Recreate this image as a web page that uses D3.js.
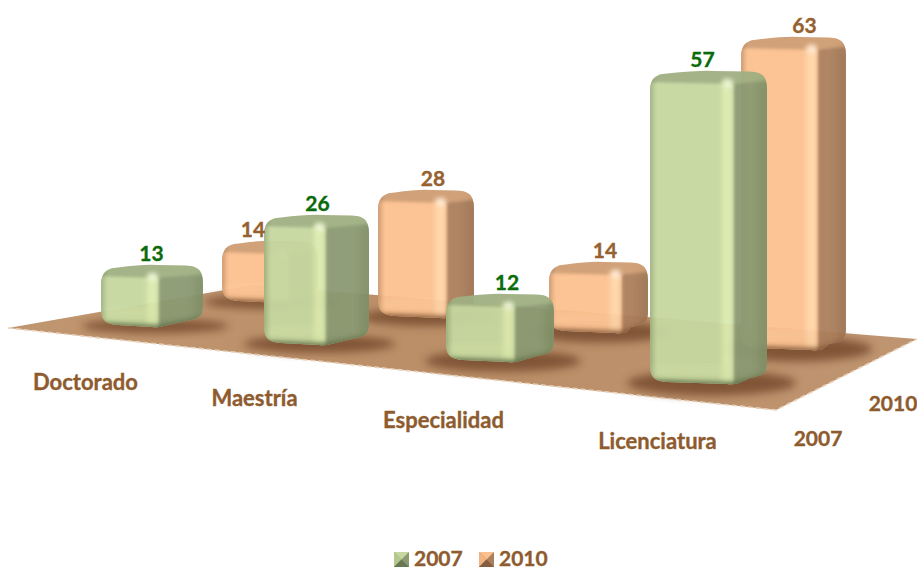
<!DOCTYPE html>
<html><head><meta charset="utf-8">
<script src="https://cdn.jsdelivr.net/npm/d3@7/dist/d3.min.js"></script>
<style>html,body{margin:0;padding:0;background:#fff}svg{display:block}text{font-family:Lato,"Open Sans",sans-serif;font-weight:700;stroke-width:.35;paint-order:stroke}</style>
</head><body><div id="c"></div>
<script>
const categories = ["Doctorado","Maestría","Especialidad","Licenciatura"];
const seriesNames = ["2007","2010"];
const values2007 = [13,26,12,57];
const values2010 = [14,28,14,63];

const W=917,H=569, idx=[0,1,2,3];
const scaleOf=r=>d3.scaleLinear().domain(idx).range(r);
// piecewise perspective layout of each series row
const layout={
 "2007":{v:values2007,left:scaleOf([101,264,446,650]),right:scaleOf([203,369,554,767]),edge:scaleOf([158,325,514,733]),
   base:scaleOf([327,345,362,384]),unit:scaleOf([4.77,5,5.67,5.49]),labelX:scaleOf([151.5,317.5,507,702.5]),
   front:"#c6d8a0",frontD:"#b4c990",side:"#8b9a72",top:"#a0b082",hi:"#dcebae",low:"#5f6f4a",lab:"#0b6b0b"},
 "2010":{v:values2010,left:scaleOf([222,378,549,741]),right:scaleOf([318,474,648,846]),edge:scaleOf([288,446,621,817]),
   base:scaleOf([303,318,333,350]),unit:scaleOf([4.43,4.57,5.07,4.97]),labelX:scaleOf([253,433,605,804.5]),
   front:"#fcc08f",frontD:"#f2b482",side:"#ab7f5c",top:"#cf9d72",hi:"#ffd6a8",low:"#7d5638",lab:"#96602f"}
};
const svg=d3.select("#c").append("svg").attr("width",W).attr("height",H).attr("viewBox",`0 0 ${W} ${H}`);
const defs=svg.append("defs");
[["b1",1.6],["b2",2.4],["b4",4],["b7",6]].forEach(([id,s])=>defs.append("filter").attr("id",id)
  .attr("x","-50%").attr("y","-50%").attr("width","200%").attr("height","200%")
  .append("feGaussianBlur").attr("stdDeviation",s));
const grad=(id,dir,stops)=>{const g=defs.append("linearGradient").attr("id",id);
  g.attr("x1",0).attr("y1",0).attr("x2",dir=="h"?1:0).attr("y2",dir=="h"?0:1);
  stops.forEach(([o,c,a])=>g.append("stop").attr("offset",o).attr("stop-color",c).attr("stop-opacity",a==null?1:a));};
grad("floorG","h",[[0,"#c09670"],[.5,"#ba8e67"],[1,"#bf9571"]]);

// floor
const line=d3.line();
const floorPts=[[8,328],[253,285],[917,339],[776,410]];
svg.append("path").attr("d",line(floorPts)+"Z").attr("fill","url(#floorG)");
svg.append("path").attr("d",line([[8,328],[776,410],[917,339]])).attr("fill","none")
  .attr("stroke","#e8d2bb").attr("stroke-width",1.6).attr("stroke-dasharray","5 3");

const poly=(pts)=>line(pts)+"Z";
function drawBar(parent,s,i){
  const L=layout[s],x0=L.left(i),x1=L.right(i),xe=L.edge(i),y1=L.base(i),h=L.v[i]*L.unit(i),y0=y1-h,
        w=x1-x0,r=17,cid=`clip${s}${i}`,xm=(x0+x1)/2;
  const g=parent.append("g").attr("opacity",.95);
  // rounded silhouette of the box
  defs.append("clipPath").attr("id",cid).append("path").attr("d",
   `M${x0},${y0+r+5}C${x0},${y0+9} ${x0+4},${y0+3} ${x0+r},${y0+2.5}
    Q${xm-8},${y0-1} ${xm+6},${y0} L${x1-r},${y0+.5}C${x1-4},${y0+1} ${x1},${y0+6} ${x1},${y0+r+2}
    L${x1},${y1-r-6}C${x1},${y1-10} ${x1-3},${y1-9} ${x1-r},${y1-6}L${xe+6},${y1-1}Q${xe},${y1+1} ${xe-6},${y1}
    L${x0+r},${y1-2}C${x0+4},${y1-3} ${x0},${y1-7} ${x0},${y1-r-3}Z`);
  const c=g.append("g").attr("clip-path",`url(#${cid})`);
  const tf=10, te=13;           // depth of the top face at the left end and at the near corner
  c.append("rect").attr("x",x0-2).attr("y",y0-2).attr("width",w+4).attr("height",h+6).attr("fill",L.top);
  // side face
  c.append("path").attr("filter","url(#b1)").attr("fill",L.side)
   .attr("d",poly([[xe,y0+te],[x1+6,y0+tf-1],[x1+6,y1-8],[xe,y1+4]]));
  // darkening down the side
  c.append("path").attr("filter","url(#b4)").attr("fill",L.low).attr("opacity",.25)
   .attr("d",poly([[x1-8,y0+tf],[x1+6,y0+tf],[x1+6,y1],[x1-8,y1]]));
  // front face
  c.append("path").attr("filter","url(#b1)").attr("fill",L.front)
   .attr("d",poly([[x0-6,y0+tf+1],[xe,y0+te],[xe,y1+4],[x0-6,y1]]));
  // soft dim left edge
  c.append("rect").attr("x",x0-4).attr("y",y0).attr("width",7).attr("height",h).attr("fill",L.low).attr("opacity",.4).attr("filter","url(#b2)");
  // highlight along the near vertical edge
  c.append("rect").attr("x",xe-11).attr("y",y0+te-4).attr("width",10).attr("height",h-te+2).attr("fill",L.hi).attr("filter","url(#b2)");
  c.append("circle").attr("cx",xe-5).attr("cy",y0+te-1).attr("r",4.5).attr("fill","#fff").attr("opacity",.5).attr("filter","url(#b2)");
  // bottom rim
  c.append("path").attr("filter","url(#b2)").attr("fill",L.low).attr("opacity",.85)
   .attr("d",poly([[x0-4,y1-5],[xe,y1-2],[x1+4,y1-11],[x1+4,y1+6],[x0-4,y1+6]]));
  c.append("rect").attr("x",x0+4).attr("y",y1-17).attr("width",xe-x0-10).attr("height",8).attr("fill",L.hi).attr("opacity",.45).attr("filter","url(#b4)");
}
function shadow(parent,s,i){
  const L=layout[s],cx=(L.left(i)+L.right(i))/2+3,w=L.right(i)-L.left(i);
  parent.append("ellipse").attr("cx",cx).attr("cy",L.base(i)-1).attr("rx",w*.72).attr("ry",7+i*1.8)
    .attr("fill","#7a5033").attr("opacity",.9).attr("filter","url(#b4)");
}
const floorFx=svg.append("g");
const bars=svg.append("g");
seriesNames.slice().reverse().forEach(s=>{
  idx.forEach(i=>shadow(floorFx,s,i));
  idx.forEach(i=>drawBar(bars,s,i));
});

// value labels
seriesNames.forEach(s=>{const L=layout[s];
  svg.append("g").selectAll("text").data(L.v).join("text")
   .attr("x",(d,i)=>L.labelX(i)).attr("y",(d,i)=>L.base(i)-d*L.unit(i)-4)
   .attr("text-anchor","middle").attr("font-size",21).attr("fill",L.lab).attr("stroke",L.lab).text(d=>d);
});
// axes
const ink="#8e5b2e";
const catX=d3.scaleLinear().domain(idx).range([85.5,254.5,443.5,657.5]);
const catY=d3.scaleLinear().domain(idx).range([390,406,428,449]);
svg.append("g").selectAll("text").data(categories).join("text")
  .attr("x",(d,i)=>catX(i)).attr("y",(d,i)=>catY(i)).attr("text-anchor","middle")
  .attr("font-size",22).attr("fill",ink).attr("stroke",ink).text(d=>d);
const serX=d3.scaleOrdinal().domain(seriesNames).range([818,893]);
const serY=d3.scaleOrdinal().domain(seriesNames).range([446,411]);
svg.append("g").selectAll("text").data(seriesNames).join("text")
  .attr("x",d=>serX(d)).attr("y",d=>serY(d)).attr("text-anchor","middle")
  .attr("font-size",21).attr("fill",ink).attr("stroke",ink).text(d=>d);
// legend
const legX=d3.scaleOrdinal().domain(seriesNames).range([394,479]);
const leg=svg.append("g").selectAll("g").data(seriesNames).join("g").attr("transform",d=>`translate(${legX(d)},552)`);
const sw=15;
const tri=(a,b,c)=>line([a,b,c])+"Z";
const mid=[sw/2,sw/2];
leg.append("rect").attr("width",sw).attr("height",sw).attr("fill",d=>layout[d].side);
leg.append("path").attr("d",tri([0,0],[sw,0],mid)).attr("fill",d=>layout[d].front);
leg.append("path").attr("d",tri([0,0],[0,sw],mid)).attr("fill",d=>layout[d].frontD);
leg.append("path").attr("d",tri([0,sw],[sw,sw],mid)).attr("fill",d=>layout[d].low).attr("opacity",.8);
leg.append("text").attr("x",sw+5).attr("y",13.5).attr("font-size",21).attr("fill",ink).attr("stroke",ink).text(d=>d);
</script></body></html>
